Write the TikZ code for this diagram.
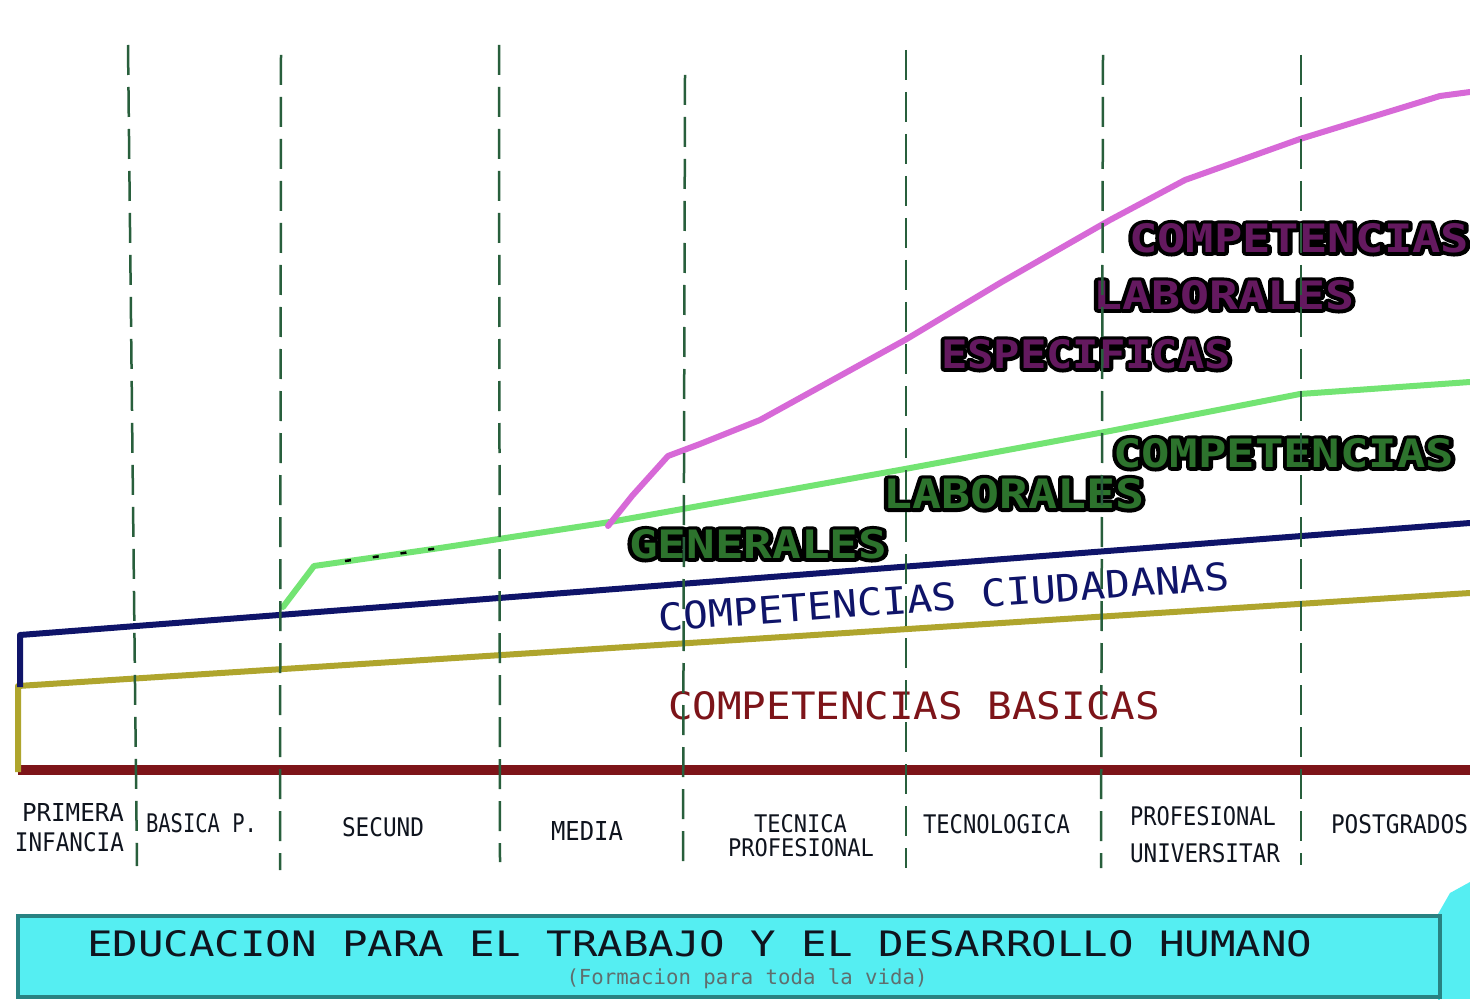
\documentclass[tikz,border=0pt]{standalone}
\usepackage{fontspec}
\usepackage{graphicx}
\setmainfont{DejaVu Sans Mono}
\definecolor{gridc}{RGB}{40,95,60}
\definecolor{basered}{RGB}{125,20,25}
\definecolor{olivec}{RGB}{175,165,45}
\definecolor{navyc}{RGB}{15,20,105}
\definecolor{lgreen}{RGB}{115,228,115}
\definecolor{magc}{RGB}{215,105,215}
\definecolor{gtext}{RGB}{45,115,45}
\definecolor{ptext}{RGB}{100,25,95}
\definecolor{cyanc}{RGB}{85,238,242}
\definecolor{tealc}{RGB}{40,130,130}
\definecolor{inkc}{RGB}{15,20,30}
\definecolor{subc}{RGB}{95,110,110}
\tikzset{
  lbl/.style={anchor=south west,inner sep=0pt,outer sep=0pt},
  gridl/.style={draw=gridc,line width=2.5pt,dash pattern=on 30pt off 12pt},
  curve/.style={line width=#1,line join=round,line cap=round},
}
\newcommand\txt[7]{\node[lbl,text=#6] (#1) at (#2,#3) {\resizebox{#4pt}{#5pt}{#7}};}
\newcommand\otxt[7]{%
  \node[lbl,text=#6] (#1) at (#2,#3) {\resizebox{#4pt}{#5pt}{\bfseries\rlap{\special{pdf:code q 1 Tr 1.8 w 1 j 0 0 0 RG}#7\special{pdf:code Q}}#7}};}
\begin{document}
\begin{tikzpicture}[x=1pt,y=-1pt]
\useasboundingbox[fill=white] (0,0) rectangle (1470,1000);

% curves
\draw[curve=10pt,basered,line cap=butt] (18,770) -- (1470,770);
\draw[curve=6pt,olivec,line cap=butt] (18,772) -- (18,686) -- (1470,593);
\draw[curve=6pt,navyc,line cap=butt] (20,687) -- (20,635) -- (1470,523);
\draw[curve=6pt,lgreen] (283,607) -- (314,566) -- (440,548) -- (610,522) -- (905,469) -- (1110,431) -- (1300,394) -- (1470,382);
\draw[black,line width=2.5pt,dash pattern=on 6pt off 22pt] (345,561) -- (440,548);
\draw[curve=6pt,magc] (608,526) -- (632,496) -- (668,456) -- (700,444) -- (760,420) -- (905,340) -- (1000,283) -- (1110,220) -- (1185,180) -- (1300,139) -- (1440,96) -- (1470,92);

% labels on curves
\txt{basicas}{668}{720}{492}{28}{basered}{COMPETENCIAS BASICAS}
\node[lbl,text=navyc,rotate=4.2] (ciud) at (660,632) {\resizebox{572pt}{28pt}{COMPETENCIAS CIUDADANAS}};
\otxt{g1}{1113}{468}{341}{29}{gtext}{COMPETENCIAS}
\otxt{g2}{883}{509}{261}{30}{gtext}{LABORALES}
\otxt{g3}{629}{559}{258}{29}{gtext}{GENERALES}
\otxt{p1}{1129}{253}{340}{29}{ptext}{COMPETENCIAS}
\otxt{p2}{1093}{310}{261}{29}{ptext}{LABORALES}
\otxt{p3}{941}{369}{290}{29}{ptext}{ESPECIFICAS}

% grid
\draw[gridl] (128,45) -- (137,866);
\draw[gridl] (281,55) -- (280,870);
\draw[gridl] (499,45) -- (500,862);
\draw[gridl] (685,75) -- (683,865);
\draw[gridl] (906,50) -- (906,868);
\draw[gridl] (1103,55) -- (1101,868);
\draw[gridl] (1301,55) -- (1301,865);

% level labels
\txt{pi1}{22}{821}{102}{18}{inkc}{PRIMERA}
\txt{pi2}{15}{852}{109}{19}{inkc}{INFANCIA}
\txt{bp}{146}{833}{111}{19}{inkc}{BASICA P.}
\txt{sec}{342}{837}{82}{19}{inkc}{SECUND}
\txt{med}{551}{840}{72}{19}{inkc}{MEDIA}
\txt{tp1}{754}{833}{93}{18}{inkc}{TECNICA}
\txt{tp2}{728}{857}{146}{18}{inkc}{PROFESIONAL}
\txt{tec}{923}{834}{147}{19}{inkc}{TECNOLOGICA}
\txt{pu1}{1130}{826}{146}{19}{inkc}{PROFESIONAL}
\txt{pu2}{1130}{863}{150}{19}{inkc}{UNIVERSITAR}
\txt{pg}{1331}{834}{137}{19}{inkc}{POSTGRADOS}

% banner
\fill[cyanc] (1438,914) -- (1450,893) -- (1470,882) -- (1470,1000) -- (1438,1000) -- cycle;
\draw[tealc,line width=4pt,fill=cyanc] (18,916) rectangle (1440,997);
\fill[white] (1440,999) rectangle (1470,1000);
\txt{edu}{87}{957}{1225}{26}{inkc}{EDUCACION PARA EL TRABAJO Y EL DESARROLLO HUMANO}
\node[inner sep=0pt,text=subc] (sub) at (747,979) {\resizebox{361pt}{!}{(Formacion para toda la vida)}};
\end{tikzpicture}
\end{document}
